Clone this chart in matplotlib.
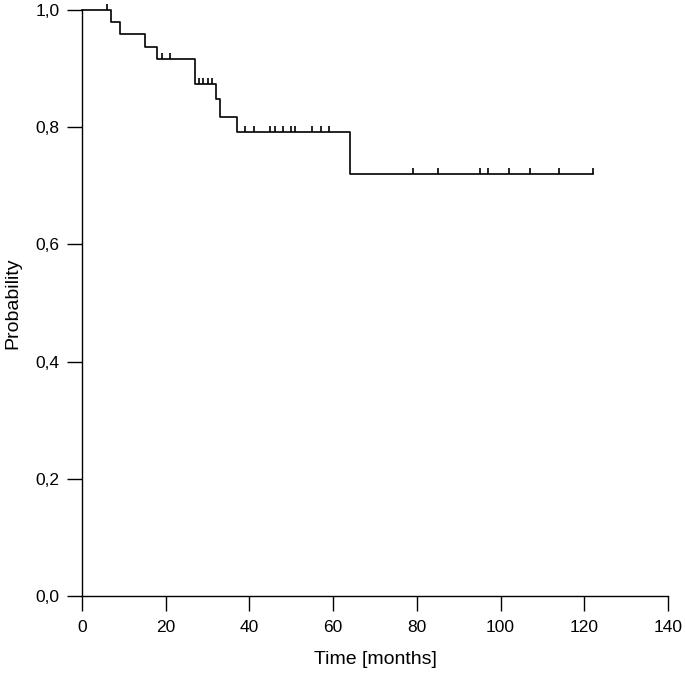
import numpy as np
import matplotlib
matplotlib.use("Agg")
import matplotlib.pyplot as plt
from matplotlib.ticker import FuncFormatter

plt.rcParams['font.family'] = ['Liberation Sans', 'DejaVu Sans']

# Kaplan-Meier estimate
step_times = [0, 7, 9, 15, 18, 27, 32, 33, 37, 64]
step_surv = [1.0, 0.979, 0.959, 0.937, 0.916, 0.873, 0.848, 0.818, 0.791, 0.72]
end_time = 122
censored = [6, 19, 21, 28, 29, 30, 31, 39, 41, 45, 46, 48, 50, 51, 55, 57, 59,
            79, 85, 95, 97, 102, 107, 114, 122]

x_ticks = [0, 20, 40, 60, 80, 100, 120, 140]
y_ticks = [0.0, 0.2, 0.4, 0.6, 0.8, 1.0]


def surv_at(t):
    idx = np.searchsorted(step_times, t, side='right') - 1
    return step_surv[idx]


fig = plt.figure(figsize=(6.85, 6.75), dpi=100)
ax = fig.add_axes([82 / 685, 1 - 596 / 675, 586 / 685, 586 / 675])

xs = step_times + [end_time]
ys = step_surv + [step_surv[-1]]
ax.step(xs, ys, where='post', color='black', lw=1.2, clip_on=False)

cy = np.array([surv_at(c) for c in censored])
ax.vlines(censored, cy, cy + 0.011, color='black', lw=1.2, clip_on=False)

ax.set_xlim(0, 140)
ax.set_ylim(0, 1.0)
ax.set_xticks(x_ticks)
ax.set_yticks(y_ticks)
ax.yaxis.set_major_formatter(FuncFormatter(lambda v, p: f'{v:.1f}'.replace('.', ',')))

for side in ['top', 'right']:
    ax.spines[side].set_visible(False)
for side in ['left', 'bottom']:
    ax.spines[side].set_linewidth(1.0)

ax.tick_params(direction='out', length=11, width=1.0, labelsize=12.5)
ax.tick_params(axis='x', pad=6)
ax.tick_params(axis='y', pad=5)

ax.set_xlabel('Time [months]', fontsize=14, labelpad=12)
ax.set_ylabel('Probability', fontsize=14, labelpad=10)

fig.savefig('out.png', dpi=100)
